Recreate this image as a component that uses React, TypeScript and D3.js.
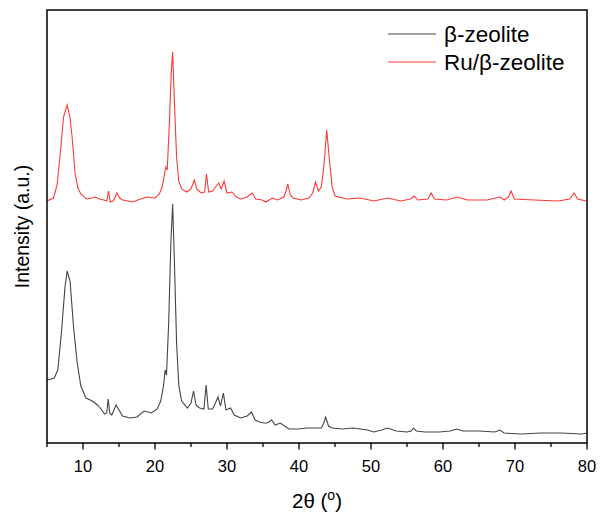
import React from "react";
import * as d3 from "d3";

// XRD patterns, [2θ, intensity (a.u.)]
const betaZeolite: [number, number][] = [
  [5.0, 63], [5.6, 64], [6.0, 65], [6.5, 73], [7.0, 110], [7.5, 156], [7.8, 172], [8.2, 162],
  [8.7, 115], [9.2, 80], [9.7, 57], [10.4, 45], [11.0, 43], [11.5, 41], [12.0, 38], [12.5, 34],
  [13.0, 29], [13.3, 30], [13.5, 44], [13.7, 30], [14.0, 28], [14.6, 38], [15.0, 33], [15.5, 27],
  [16.5, 25], [17.5, 26], [18.5, 32], [19.5, 30], [20.3, 34], [20.8, 42], [21.2, 58], [21.4, 73],
  [21.6, 68], [21.9, 120], [22.2, 200], [22.45, 239], [22.7, 180], [23.0, 100], [23.3, 58],
  [23.7, 42], [24.5, 35], [25.0, 40], [25.35, 52], [25.7, 38], [26.2, 35], [26.8, 34], [27.1, 58],
  [27.4, 34], [28.0, 34], [28.4, 40], [28.75, 46], [29.1, 37], [29.5, 50], [29.85, 33], [30.5, 35],
  [31.0, 28], [31.9, 25], [32.8, 27], [33.4, 31], [33.9, 23], [34.5, 21], [35.2, 20], [35.6, 20],
  [36.2, 23], [36.7, 18], [37.4, 20], [38.0, 17], [38.6, 14], [40.0, 14], [41.0, 15], [42.2, 15],
  [43.1, 15], [43.45, 20], [43.7, 26], [44.1, 17], [44.6, 15], [46.0, 14], [47.5, 15], [48.5, 14],
  [49.5, 13], [50.4, 11], [51.5, 13], [52.3, 15], [53.5, 12], [55.0, 11], [55.6, 12], [55.9, 15],
  [56.3, 12], [57.5, 11], [59.5, 11], [61.0, 12], [61.9, 14], [62.8, 12], [65.0, 12], [67.2, 11],
  [67.9, 13], [68.5, 10], [70.8, 9], [73.6, 10], [76.4, 10], [79.2, 9], [80.0, 10],
];

const ruBetaZeolite: [number, number][] = [
  [5.0, 242], [5.9, 245], [6.4, 258], [6.8, 286], [7.3, 326], [7.8, 338], [8.2, 325], [8.5, 305],
  [8.9, 270], [9.3, 255], [9.7, 249], [10.5, 244], [11.2, 245], [11.7, 246], [12.3, 244],
  [12.9, 243], [13.3, 242], [13.55, 252], [13.8, 241], [14.2, 242], [14.7, 250], [15.1, 245],
  [15.5, 243], [16.9, 241], [18.0, 244], [18.9, 246], [20.0, 245], [20.6, 249], [21.0, 256],
  [21.3, 268], [21.5, 276], [21.7, 273], [22.0, 320], [22.25, 370], [22.45, 391], [22.7, 340],
  [23.0, 286], [23.3, 262], [23.7, 254], [24.4, 251], [25.0, 254], [25.45, 263], [25.8, 254],
  [26.4, 250], [26.9, 251], [27.15, 269], [27.45, 251], [28.0, 252], [28.4, 256], [28.85, 260],
  [29.2, 254], [29.6, 262], [30.0, 250], [30.7, 251], [31.3, 246], [31.9, 244], [32.8, 246],
  [33.5, 250], [34.0, 244], [34.9, 243], [35.4, 241], [36.3, 245], [37.0, 243], [37.9, 246],
  [38.2, 252], [38.45, 259], [38.8, 248], [39.2, 245], [40.3, 243], [41.4, 245], [41.9, 250],
  [42.3, 261], [42.7, 252], [43.1, 256], [43.5, 280], [43.85, 313], [44.2, 285], [44.6, 256],
  [45.0, 247], [46.6, 244], [48.5, 245], [50.4, 242], [52.3, 245], [54.1, 242], [55.5, 244],
  [56.0, 247], [56.5, 243], [57.9, 244], [58.35, 250], [58.8, 244], [60.5, 243], [62.0, 246],
  [63.4, 243], [66.1, 243], [67.9, 246], [68.5, 243], [69.1, 246], [69.45, 252], [69.9, 244],
  [72.7, 243], [76.0, 242], [77.6, 244], [78.2, 250], [78.7, 244], [79.9, 242],
];

const majorTicks = [10, 20, 30, 40, 50, 60, 70, 80];
const minorTicks = [5, 15, 25, 35, 45, 55, 65, 75];

const series = [
  { name: "β-zeolite", color: "#444444", data: betaZeolite },
  { name: "Ru/β-zeolite", color: "#ff3838", data: ruBetaZeolite },
];

const font = "'Liberation Sans', Arial, sans-serif";

export default function App() {
  const width = 600;
  const height = 519;
  const margin = { top: 10, right: 13, bottom: 76, left: 47 };
  const x0 = margin.left;
  const x1 = width - margin.right;
  const y0 = margin.top;
  const y1 = height - margin.bottom;

  const x = d3.scaleLinear().domain([5, 80]).range([x0, x1]);
  const y = d3.scaleLinear().domain([0, 433]).range([y1, y0]);

  const line = d3
    .line<[number, number]>()
    .x((d) => x(d[0]))
    .y((d) => y(d[1]));

  return (
    <svg
      width={width}
      height={height}
      style={{ position: "absolute", left: 0, top: 0, background: "#fff" }}
      fontFamily={font}
    >
      <rect x={0} y={0} width={width} height={height} fill="#fff" />

      {series.map((s) => (
        <path key={s.name} d={line(s.data) || ""} fill="none" stroke={s.color} strokeWidth={1.1} />
      ))}

      {/* frame */}
      <rect x={x0} y={y0} width={x1 - x0} height={y1 - y0} fill="none" stroke="#000" strokeWidth={1.5} />

      {/* bottom ticks */}
      {majorTicks.map((t) => (
        <g key={"M" + t}>
          <line x1={x(t)} x2={x(t)} y1={y1} y2={y1 + 6.5} stroke="#000" strokeWidth={1.3} />
          <text x={x(t)} y={y1 + 29} textAnchor="middle" fontSize={16.5} fill="#000">
            {t}
          </text>
        </g>
      ))}
      {minorTicks.map((t) => (
        <line key={"m" + t} x1={x(t)} x2={x(t)} y1={y1} y2={y1 + 4} stroke="#000" strokeWidth={1.3} />
      ))}

      {/* axis titles */}
      <text x={(x0 + x1) / 2} y={508} textAnchor="middle" fontSize={20.5} fill="#000">
        2θ (<tspan fontSize={14} dy={-8}>o</tspan>
        <tspan dy={8}>)</tspan>
      </text>
      <text
        transform={`translate(29,${(y0 + y1) / 2}) rotate(-90)`}
        textAnchor="middle"
        fontSize={19.5}
        fill="#000"
      >
        Intensity (a.u.)
      </text>

      {/* legend */}
      {series.map((s, i) => (
        <g key={"leg" + s.name} transform={`translate(388,${34 + i * 28})`}>
          <line x1={0} x2={48} y1={0} y2={0} stroke={s.color} strokeWidth={1.1} />
          <text x={56} y={8} fontSize={22.5} fill="#000">
            {s.name}
          </text>
        </g>
      ))}
    </svg>
  );
}
